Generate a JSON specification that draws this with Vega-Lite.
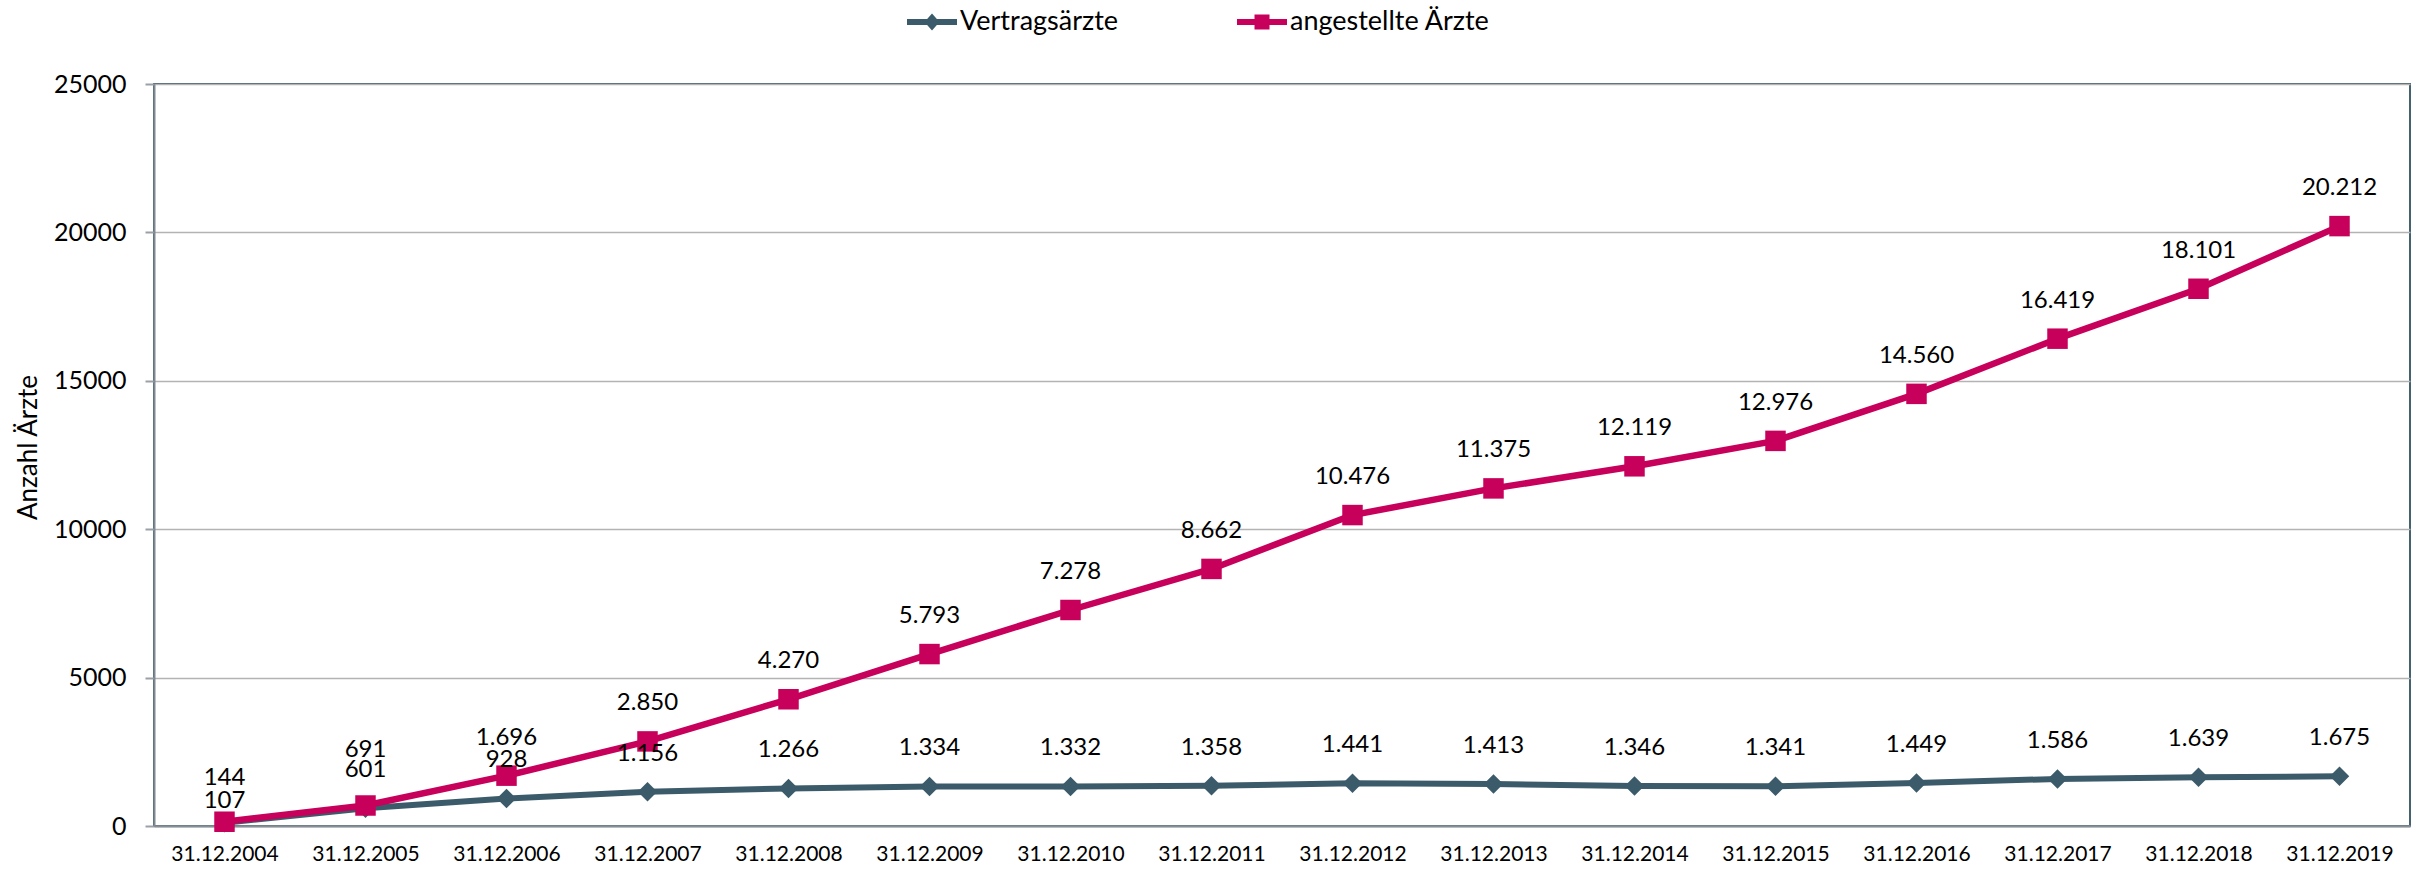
{
  "$schema": "https://vega.github.io/schema/vega-lite/v6.json",
  "autosize": {"type": "none"},
  "width": 2256,
  "height": 742,
  "padding": {"left": 154, "top": 84, "right": 8, "bottom": 43},
  "config": {
    "font": "Lato",
    "locale": {"number": {"decimal": ",", "thousands": ".", "grouping": [3], "currency": ["", " €"]}},
    "view": {"stroke": "#44616f", "strokeWidth": 2}
  },
  "data": {
    "values": [
      {"date": "31.12.2004", "series": "Vertragsärzte", "value": 107},
      {"date": "31.12.2005", "series": "Vertragsärzte", "value": 601},
      {"date": "31.12.2006", "series": "Vertragsärzte", "value": 928},
      {"date": "31.12.2007", "series": "Vertragsärzte", "value": 1156},
      {"date": "31.12.2008", "series": "Vertragsärzte", "value": 1266},
      {"date": "31.12.2009", "series": "Vertragsärzte", "value": 1334},
      {"date": "31.12.2010", "series": "Vertragsärzte", "value": 1332},
      {"date": "31.12.2011", "series": "Vertragsärzte", "value": 1358},
      {"date": "31.12.2012", "series": "Vertragsärzte", "value": 1441},
      {"date": "31.12.2013", "series": "Vertragsärzte", "value": 1413},
      {"date": "31.12.2014", "series": "Vertragsärzte", "value": 1346},
      {"date": "31.12.2015", "series": "Vertragsärzte", "value": 1341},
      {"date": "31.12.2016", "series": "Vertragsärzte", "value": 1449},
      {"date": "31.12.2017", "series": "Vertragsärzte", "value": 1586},
      {"date": "31.12.2018", "series": "Vertragsärzte", "value": 1639},
      {"date": "31.12.2019", "series": "Vertragsärzte", "value": 1675},
      {"date": "31.12.2004", "series": "angestellte Ärzte", "value": 144},
      {"date": "31.12.2005", "series": "angestellte Ärzte", "value": 691},
      {"date": "31.12.2006", "series": "angestellte Ärzte", "value": 1696},
      {"date": "31.12.2007", "series": "angestellte Ärzte", "value": 2850},
      {"date": "31.12.2008", "series": "angestellte Ärzte", "value": 4270},
      {"date": "31.12.2009", "series": "angestellte Ärzte", "value": 5793},
      {"date": "31.12.2010", "series": "angestellte Ärzte", "value": 7278},
      {"date": "31.12.2011", "series": "angestellte Ärzte", "value": 8662},
      {"date": "31.12.2012", "series": "angestellte Ärzte", "value": 10476},
      {"date": "31.12.2013", "series": "angestellte Ärzte", "value": 11375},
      {"date": "31.12.2014", "series": "angestellte Ärzte", "value": 12119},
      {"date": "31.12.2015", "series": "angestellte Ärzte", "value": 12976},
      {"date": "31.12.2016", "series": "angestellte Ärzte", "value": 14560},
      {"date": "31.12.2017", "series": "angestellte Ärzte", "value": 16419},
      {"date": "31.12.2018", "series": "angestellte Ärzte", "value": 18101},
      {"date": "31.12.2019", "series": "angestellte Ärzte", "value": 20212}
    ]
  },
  "encoding": {
    "x": {
      "field": "date", "type": "ordinal", "sort": null,
      "scale": {"type": "point", "padding": 0.5},
      "axis": {
        "title": null, "labelAngle": 0, "labelFontSize": 21, "labelColor": "#000000",
        "labelPadding": 17, "ticks": false, "grid": false,
        "domainColor": "#868e96", "domainWidth": 2
      }
    },
    "y": {
      "field": "value", "type": "quantitative",
      "scale": {"domain": [0, 25000], "nice": false},
      "axis": {
        "title": "Anzahl Ärzte", "titleFontSize": 26, "titleFontWeight": "normal", "titleColor": "#000000",
        "titlePadding": 12, "titleY": 363,
        "values": [0, 5000, 10000, 15000, 20000, 25000], "format": "d",
        "labelFontSize": 25, "labelColor": "#000000", "labelPadding": 19,
        "tickSize": 9, "tickColor": "#9aa0a6", "tickWidth": 2,
        "domainColor": "#7f8a93", "domainWidth": 2,
        "gridColor": "#b3b3b3", "gridWidth": 1.5
      }
    }
  },
  "layer": [
    {
      "transform": [{"filter": "datum.series == 'Vertragsärzte'"}],
      "mark": {"type": "line", "strokeWidth": 6, "strokeJoin": "round", "color": "#3b5b6b"},
      "encoding": {}
    },
    {
      "transform": [{"filter": "datum.series == 'Vertragsärzte'"}],
      "mark": {"type": "point", "shape": "diamond", "filled": true, "opacity": 1, "size": 380, "color": "#3b5b6b"},
      "encoding": {}
    },
    {
      "transform": [{"filter": "datum.series == 'angestellte Ärzte'"}],
      "mark": {"type": "line", "strokeWidth": 6.5, "strokeJoin": "round", "color": "#c7005b"},
      "encoding": {}
    },
    {
      "transform": [{"filter": "datum.series == 'angestellte Ärzte'"}],
      "mark": {"type": "point", "shape": "square", "filled": true, "opacity": 1, "size": 420, "color": "#c7005b"},
      "encoding": {}
    },
    {
      "transform": [{"filter": "false"}],
      "mark": {"type": "point", "filled": true, "opacity": 1},
      "encoding": {
        "color": {
          "field": "series", "type": "nominal",
          "scale": {"domain": ["Vertragsärzte", "angestellte Ärzte"], "range": ["#3b5b6b", "#c7005b"]},
          "legend": {
            "orient": "none", "legendX": 753, "legendY": -87, "direction": "horizontal",
            "title": null, "labelFontSize": 27, "labelColor": "#000000", "labelLimit": 400,
            "symbolSize": 2500, "symbolStrokeWidth": 0, "labelOffset": 3, "columnPadding": 118
          }
        },
        "shape": {
          "field": "series", "type": "nominal",
          "scale": {
            "domain": ["Vertragsärzte", "angestellte Ärzte"],
            "range": [
              "M-1,-0.12H1V0.12H-1Z M0,-0.34L0.3,0L0,0.34L-0.3,0Z",
              "M-1,-0.12H1V0.12H-1Z M-0.3,-0.3H0.3V0.3H-0.3Z"
            ]
          },
          "legend": {
            "orient": "none", "legendX": 753, "legendY": -87, "direction": "horizontal",
            "title": null, "labelFontSize": 27, "labelColor": "#000000", "labelLimit": 400,
            "symbolSize": 2500, "symbolStrokeWidth": 0, "labelOffset": 3, "columnPadding": 118
          }
        }
      }
    },
    {
      "transform": [{"filter": "!((datum.series == 'angestellte Ärzte' && (datum.date == '31.12.2005' || datum.date == '31.12.2004')) || (datum.series == 'Vertragsärzte' && datum.date == '31.12.2004'))"}],
      "mark": {"type": "text", "fontSize": 24, "dy": -38, "baseline": "middle", "color": "#000000"},
      "encoding": {"text": {"field": "value", "type": "quantitative", "format": ",d"}}
    },
    {
      "transform": [{"filter": "datum.series == 'angestellte Ärzte' && datum.date == '31.12.2005'"}],
      "mark": {"type": "text", "fontSize": 24, "dy": -55, "baseline": "middle", "color": "#000000"},
      "encoding": {"text": {"field": "value", "type": "quantitative", "format": ",d"}}
    },
    {
      "transform": [{"filter": "datum.series == 'angestellte Ärzte' && datum.date == '31.12.2004'"}],
      "mark": {"type": "text", "fontSize": 24, "dy": -44, "baseline": "middle", "color": "#000000"},
      "encoding": {"text": {"field": "value", "type": "quantitative", "format": ",d"}}
    },
    {
      "transform": [{"filter": "datum.series == 'Vertragsärzte' && datum.date == '31.12.2004'"}],
      "mark": {"type": "text", "fontSize": 24, "dy": -22, "baseline": "middle", "color": "#000000"},
      "encoding": {"text": {"field": "value", "type": "quantitative", "format": ",d"}}
    }
  ]
}
